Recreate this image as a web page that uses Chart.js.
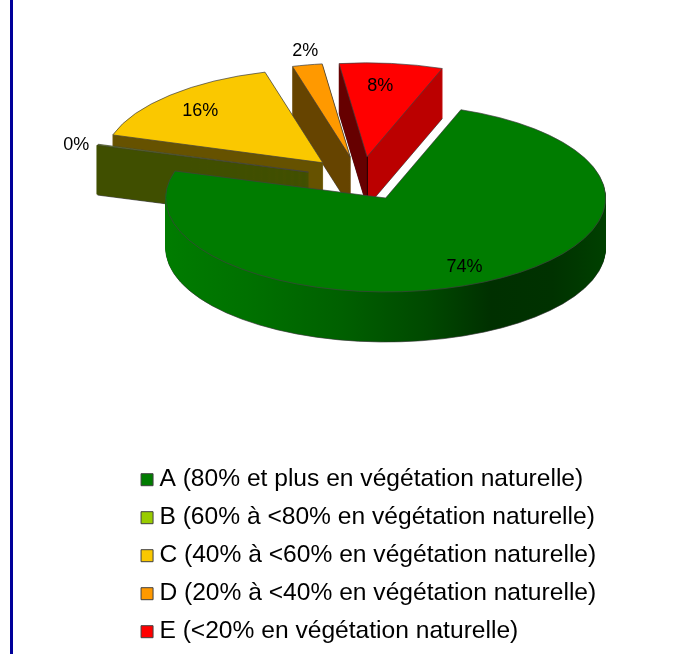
<!DOCTYPE html>
<html><head><meta charset="utf-8">
<style>html,body{margin:0;padding:0;background:#fff}canvas{display:block}#rule{position:absolute;left:10px;top:0;width:3px;height:654px;background:#00009a}</style>
<script src="https://cdn.jsdelivr.net/npm/chart.js@4"></script>
</head><body><div id="rule"></div><canvas id="c" width="699" height="654"></canvas>
<script>
const categories = ['A (80% et plus en végétation naturelle)','B (60% à <80% en végétation naturelle)','C (40% à <60% en végétation naturelle)','D (20% à <40% en végétation naturelle)','E (<20% en végétation naturelle)'];
const shares = [74.2, 0.15, 16.0, 2.2, 7.6];
const topColors = ['#007c00','#99cc00','#fac800','#ff9900','#ff0000'];
const wallStops = [
  [[0,'#007c00'],[0.2,'#007000'],[0.4,'#006000'],[0.6,'#004800'],[0.74,'#003000'],[0.88,'#003200'],[1,'#004000']],
  [[0,'#404f00'],[1,'#404f00']],
  [[0,'#665200'],[1,'#665200']],
  [[0,'#664400'],[1,'#664400']],
  [[0,'#660000'],[0.4985,'#660000'],[0.4995,'#300000'],[0.5015,'#300000'],[0.5025,'#bb0000'],[1,'#bb0000']]
];
const wallStroke = [1,3,1,1,1];
const labelReach = [0.8, 1.08, 0.77, 1.14, 0.75];
const labelNudge = [[0,0],[-5,3.5],[-5,1.5],[4,0.5],[-5,0.5]];
const drawOrder = [4,3,2,1,0];
const RADIUS = 220, SQUASH = 0.427, DEPTH = 50, EXPLODE = 55, EXPLODE_Y = 0.93, CX = 361, CY = 178.5;

const pie3d = {
  id:'pie3d',
  beforeDatasetsDraw(chart){
    const ctx = chart.ctx, arcs = chart.getDatasetMeta(0).data;
    const place = (arc, d) => {
      const mid = (arc.startAngle + arc.endAngle)/2;
      ctx.translate(CX, CY + d);
      ctx.scale(1, SQUASH);
      ctx.translate(Math.cos(mid)*EXPLODE - arc.x, Math.sin(mid)*EXPLODE*EXPLODE_Y - arc.y);
    };
    for (const i of drawOrder){
      const arc = arcs[i], base = arc.options;
      const g = ctx.createLinearGradient(arc.x-RADIUS,0,arc.x+RADIUS,0);
      wallStops[i].forEach(s => g.addColorStop(s[0], s[1]));
      arc.options = {...base, backgroundColor:g, borderColor:'#333'};
      ctx.save(); place(arc, DEPTH); arc.draw(ctx); ctx.restore();
      arc.options = {...base, backgroundColor:g, borderColor:g, borderWidth:wallStroke[i]};
      for (let d = DEPTH-1; d > 0; d--){ ctx.save(); place(arc, d); arc.draw(ctx); ctx.restore(); }
      arc.options = base;
      ctx.save(); place(arc, 0); arc.draw(ctx); ctx.restore();
    }
    const total = shares.reduce((a,b)=>a+b,0);
    ctx.save();
    ctx.fillStyle = '#000'; ctx.font = '18px "Liberation Sans"'; ctx.textAlign = 'center'; ctx.textBaseline = 'middle';
    arcs.forEach((arc,i)=>{
      const mid = (arc.startAngle + arc.endAngle)/2, r = EXPLODE + RADIUS*labelReach[i];
      ctx.fillText(Math.round(shares[i]/total*100)+'%', CX + Math.cos(mid)*r + labelNudge[i][0], CY + Math.sin(mid)*r*SQUASH + labelNudge[i][1]);
    });
    ctx.restore();
    return false;
  }
};

new Chart(document.getElementById('c'), {
  type:'pie',
  data:{labels:categories, datasets:[{data:shares, backgroundColor:topColors, borderColor:'#404040', borderWidth:1}]},
  options:{
    responsive:false, animation:false, rotation:20, radius:RADIUS,
    layout:{padding:{left:133.6,right:10,top:0,bottom:0}},
    plugins:{
      tooltip:{enabled:false},
      legend:{position:'bottom',align:'start',onClick:null,
        labels:{usePointStyle:true,pointStyle:'rect',boxWidth:0.1,boxHeight:12,padding:13.4,color:'#000',font:{family:'"Liberation Sans"',size:24.6}}}
    }
  },
  plugins:[pie3d]
});
</script></body></html>
